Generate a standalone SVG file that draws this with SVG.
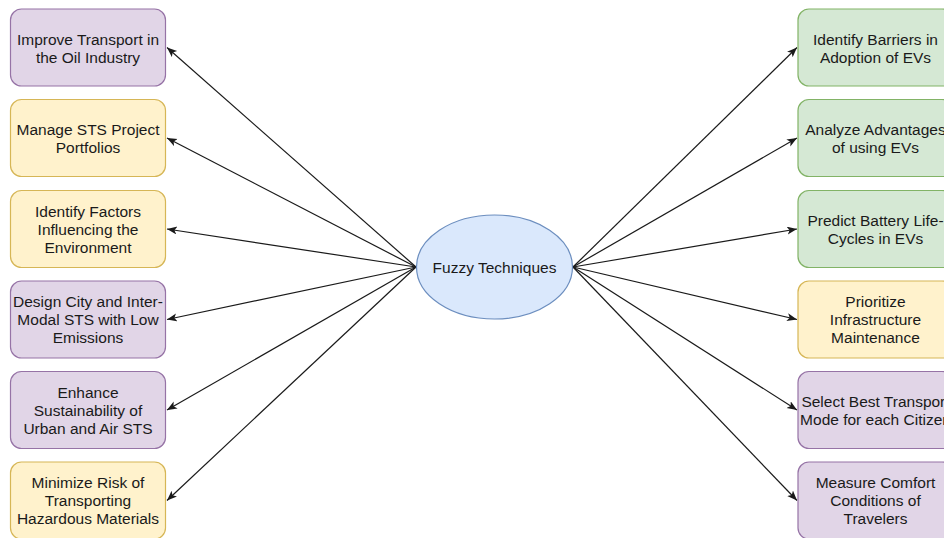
<svg xmlns="http://www.w3.org/2000/svg" width="944" height="538" viewBox="0 0 944 538">
<defs>
<style>
.box{stroke-width:1.2}
.p{fill:#e1d5e7;stroke:#9673a6}
.y{fill:#fff2cc;stroke:#d6b656}
.g{fill:#d5e8d4;stroke:#82b366}
.b{fill:#dae8fc;stroke:#6c8ebf}
text{font-family:"Liberation Sans",Arial,sans-serif;font-size:15.5px;fill:#1a1a1a;text-anchor:middle}
.c{stroke:#1a1a1a;stroke-width:1.2;fill:none;marker-end:url(#ah)}
</style>
<marker id="ah" markerUnits="userSpaceOnUse" markerWidth="12" markerHeight="10" refX="10" refY="4" orient="auto">
<path d="M0,0 L10,4 L0,8 L2.5,4 Z" fill="#1a1a1a"/>
</marker>
</defs>
<g id="connectors">
<line class="c" x1="416" y1="267" x2="167" y2="47.5"/>
<line class="c" x1="416" y1="267" x2="167" y2="138"/>
<line class="c" x1="416" y1="267" x2="167" y2="229"/>
<line class="c" x1="416" y1="267" x2="167" y2="319.5"/>
<line class="c" x1="416" y1="267" x2="167" y2="410"/>
<line class="c" x1="416" y1="267" x2="167" y2="500.5"/>
<line class="c" x1="573" y1="267" x2="797" y2="47.5"/>
<line class="c" x1="573" y1="267" x2="797" y2="138"/>
<line class="c" x1="573" y1="267" x2="797" y2="229"/>
<line class="c" x1="573" y1="267" x2="797" y2="319.5"/>
<line class="c" x1="573" y1="267" x2="797" y2="410"/>
<line class="c" x1="573" y1="267" x2="797" y2="500.5"/>
</g>
<g id="center">
<ellipse class="box b" cx="494.5" cy="267" rx="78" ry="52"/>
<text x="494.5" y="272.5">Fuzzy Techniques</text>
</g>
<g id="l1"><rect class="box p" x="10.5" y="9" width="155" height="77" rx="11"/>
<text x="88" y="44.5">Improve Transport in</text><text x="88" y="62.5">the Oil Industry</text></g>
<g id="l2"><rect class="box y" x="10.5" y="99.5" width="155" height="77" rx="11"/>
<text x="88" y="134.5">Manage STS Project</text><text x="88" y="152.5">Portfolios</text></g>
<g id="l3"><rect class="box y" x="10.5" y="190.5" width="155" height="77" rx="11"/>
<text x="88" y="216.5">Identify Factors</text><text x="88" y="234.5">Influencing the</text><text x="88" y="252.5">Environment</text></g>
<g id="l4"><rect class="box p" x="10.5" y="281" width="155" height="77" rx="11"/>
<text x="88" y="307">Design City and Inter-</text><text x="88" y="325">Modal STS with Low</text><text x="88" y="343">Emissions</text></g>
<g id="l5"><rect class="box p" x="10.5" y="371.5" width="155" height="77" rx="11"/>
<text x="88" y="397.5">Enhance</text><text x="88" y="415.5">Sustainability of</text><text x="88" y="433.5">Urban and Air STS</text></g>
<g id="l6"><rect class="box y" x="10.5" y="462" width="155" height="77" rx="11"/>
<text x="88" y="488">Minimize Risk of</text><text x="88" y="506">Transporting</text><text x="88" y="524">Hazardous Materials</text></g>
<g id="r1"><rect class="box g" x="798" y="9" width="155" height="77" rx="11"/>
<text x="875.5" y="44.5">Identify Barriers in</text><text x="875.5" y="62.5">Adoption of EVs</text></g>
<g id="r2"><rect class="box g" x="798" y="99.5" width="155" height="77" rx="11"/>
<text x="875.5" y="134.5">Analyze Advantages</text><text x="875.5" y="152.5">of using EVs</text></g>
<g id="r3"><rect class="box g" x="798" y="190.5" width="155" height="77" rx="11"/>
<text x="875.5" y="225.5">Predict Battery Life-</text><text x="875.5" y="243.5">Cycles in EVs</text></g>
<g id="r4"><rect class="box y" x="798" y="281" width="155" height="77" rx="11"/>
<text x="875.5" y="307">Prioritize</text><text x="875.5" y="325">Infrastructure</text><text x="875.5" y="343">Maintenance</text></g>
<g id="r5"><rect class="box p" x="798" y="371.5" width="155" height="77" rx="11"/>
<text x="875.5" y="406.5">Select Best Transport</text><text x="875.5" y="424.5">Mode for each Citizen</text></g>
<g id="r6"><rect class="box p" x="798" y="462" width="155" height="77" rx="11"/>
<text x="875.5" y="488">Measure Comfort</text><text x="875.5" y="506">Conditions of</text><text x="875.5" y="524">Travelers</text></g>
</svg>
